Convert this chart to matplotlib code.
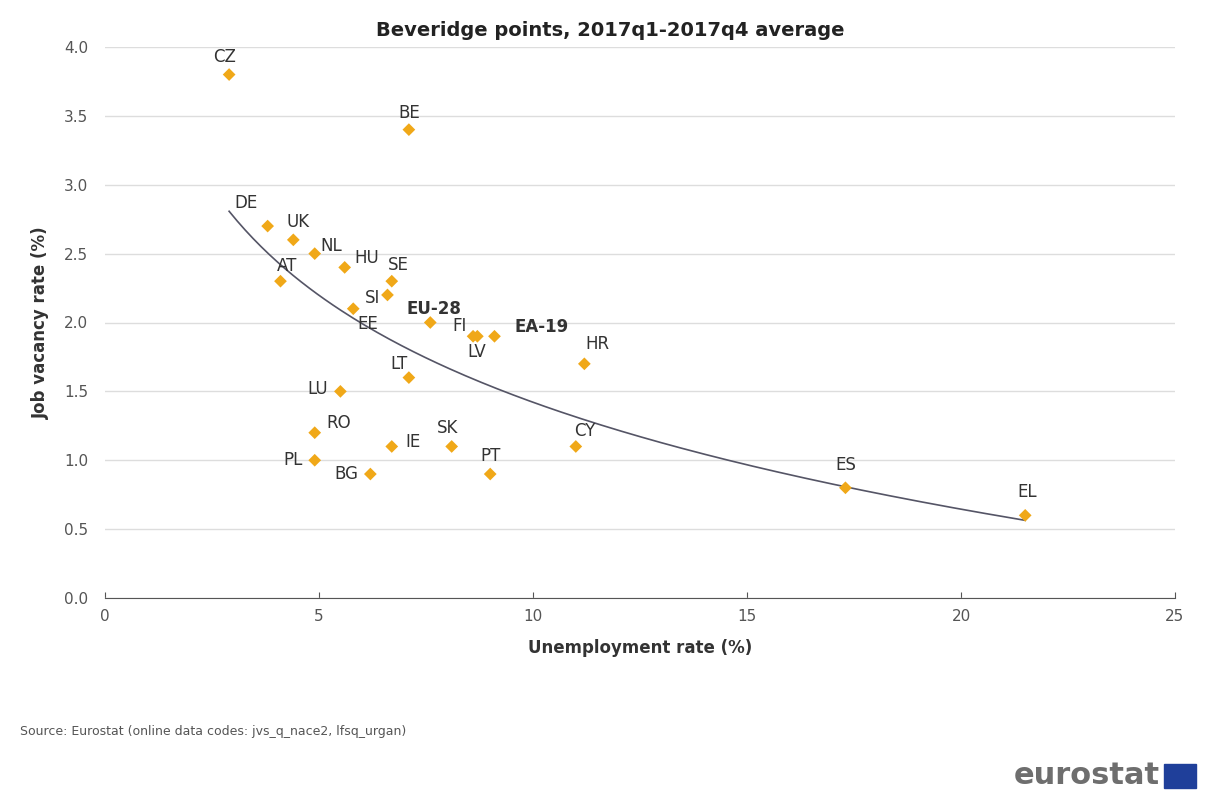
import numpy as np
import matplotlib
matplotlib.use("Agg")
import matplotlib.pyplot as plt
from matplotlib.patches import Rectangle

plt.rcParams["font.family"] = ["DejaVu Sans"]

# ---- data (unemployment %, job vacancy %) ----
codes = ["CZ", "BE", "DE", "UK", "NL", "HU", "AT", "SE", "SI", "EE", "EU-28", "FI", "LV",
         "EA-19", "HR", "LT", "LU", "RO", "IE", "SK", "CY", "PL", "BG", "PT", "ES", "EL"]
unemp = [2.9, 7.1, 3.8, 4.4, 4.9, 5.6, 4.1, 6.7, 6.6, 5.8, 7.6, 8.6, 8.7,
         9.1, 11.2, 7.1, 5.5, 4.9, 6.7, 8.1, 11.0, 4.9, 6.2, 9.0, 17.3, 21.5]
vacancy = [3.8, 3.4, 2.7, 2.6, 2.5, 2.4, 2.3, 2.3, 2.2, 2.1, 2.0, 1.9, 1.9,
           1.9, 1.7, 1.6, 1.5, 1.2, 1.1, 1.1, 1.1, 1.0, 0.9, 0.9, 0.8, 0.6]
aggregates = ["EU-28", "EA-19"]

# logarithmic trend line y = a + b*ln(x), coefficients
trend_a = 4.0
trend_b = -1.12

x_ticks = [0, 5, 10, 15, 20, 25]
y_ticks = [0.0, 0.5, 1.0, 1.5, 2.0, 2.5, 3.0, 3.5, 4.0]

# label offsets in pixels (dx, dy), purely placement
offs = {"CZ": (-5, 18), "BE": (0, 17), "DE": (-22, 23), "UK": (5, 18), "NL": (17, 8),
        "HU": (22, 9), "AT": (7, 15), "SE": (7, 16), "SI": (-15, -3), "EE": (15, -15),
        "EU-28": (4, 14), "FI": (-14, 10), "LV": (-1, -16), "EA-19": (47, 9),
        "HR": (13, 20), "LT": (-10, 14), "LU": (-23, 2), "RO": (24, 10), "IE": (21, 4),
        "SK": (-4, 18), "CY": (9, 15), "PL": (-22, 0), "BG": (-24, 0), "PT": (0, 18),
        "ES": (0, 23), "EL": (2, 23)}

GOLD = "#F0A818"
TXT = "#333333"

fig = plt.figure(figsize=(12.11, 7.98), dpi=100)
ax = fig.add_axes([105 / 1211, 1 - 598 / 798, 1070 / 1211, 551 / 798])

cx = [u for c, u in zip(codes, unemp) if c not in aggregates]
xs = np.linspace(min(cx), max(cx), 200)
ax.plot(xs, trend_a + trend_b * np.log(xs), color="#555566", lw=1.2, zorder=2)

ax.scatter(unemp, vacancy, marker="D", s=42, color=GOLD, edgecolor="none", zorder=3)
for c, u, v in zip(codes, unemp, vacancy):
    dx, dy = offs[c]
    ax.annotate(c, (u, v), xytext=(dx * 0.72, dy * 0.72), textcoords="offset points",
                ha="center", va="center", fontsize=12, color=TXT,
                fontweight="bold" if c in aggregates else "normal", zorder=4)

ax.set_xlim(0, 25)
ax.set_ylim(0, 4.0)
ax.set_xticks(x_ticks)
ax.set_yticks(y_ticks)
ax.set_yticklabels([f"{t:.1f}" for t in y_ticks])
ax.grid(axis="y", color="#dddddd", lw=1)
ax.set_axisbelow(True)
for s in ["top", "right", "left"]:
    ax.spines[s].set_visible(False)
ax.spines["bottom"].set_color("#555555")
ax.tick_params(axis="y", length=0, pad=12, labelsize=11, labelcolor="#555555")
ax.tick_params(axis="x", direction="in", length=4, color="#555555", pad=8,
               labelsize=11, labelcolor="#555555")

ax.set_xlabel("Unemployment rate (%)", fontsize=12, fontweight="bold", color=TXT, labelpad=11)
ax.set_ylabel("Job vacancy rate (%)", fontsize=12, fontweight="bold", color=TXT, labelpad=10)
fig.text(610 / 1211, 1 - 30 / 798, "Beveridge points, 2017q1-2017q4 average",
         ha="center", va="center", fontsize=14, fontweight="bold", color="#222222")

fig.text(20 / 1211, 1 - 731 / 798, "Source: Eurostat (online data codes: jvs_q_nace2, lfsq_urgan)",
         ha="left", va="center", fontsize=9, color="#555555")

# eurostat mark
fig.text(1160 / 1211, 1 - 776 / 798, "eurostat", ha="right", va="center",
         fontsize=22, fontweight="bold", color="#6e6e6e")
fig.patches.append(Rectangle((1164 / 1211, 1 - 788 / 798), 32 / 1211, 24 / 798,
                             transform=fig.transFigure, color="#1f3f9a"))

fig.savefig("out.png", dpi=100)
